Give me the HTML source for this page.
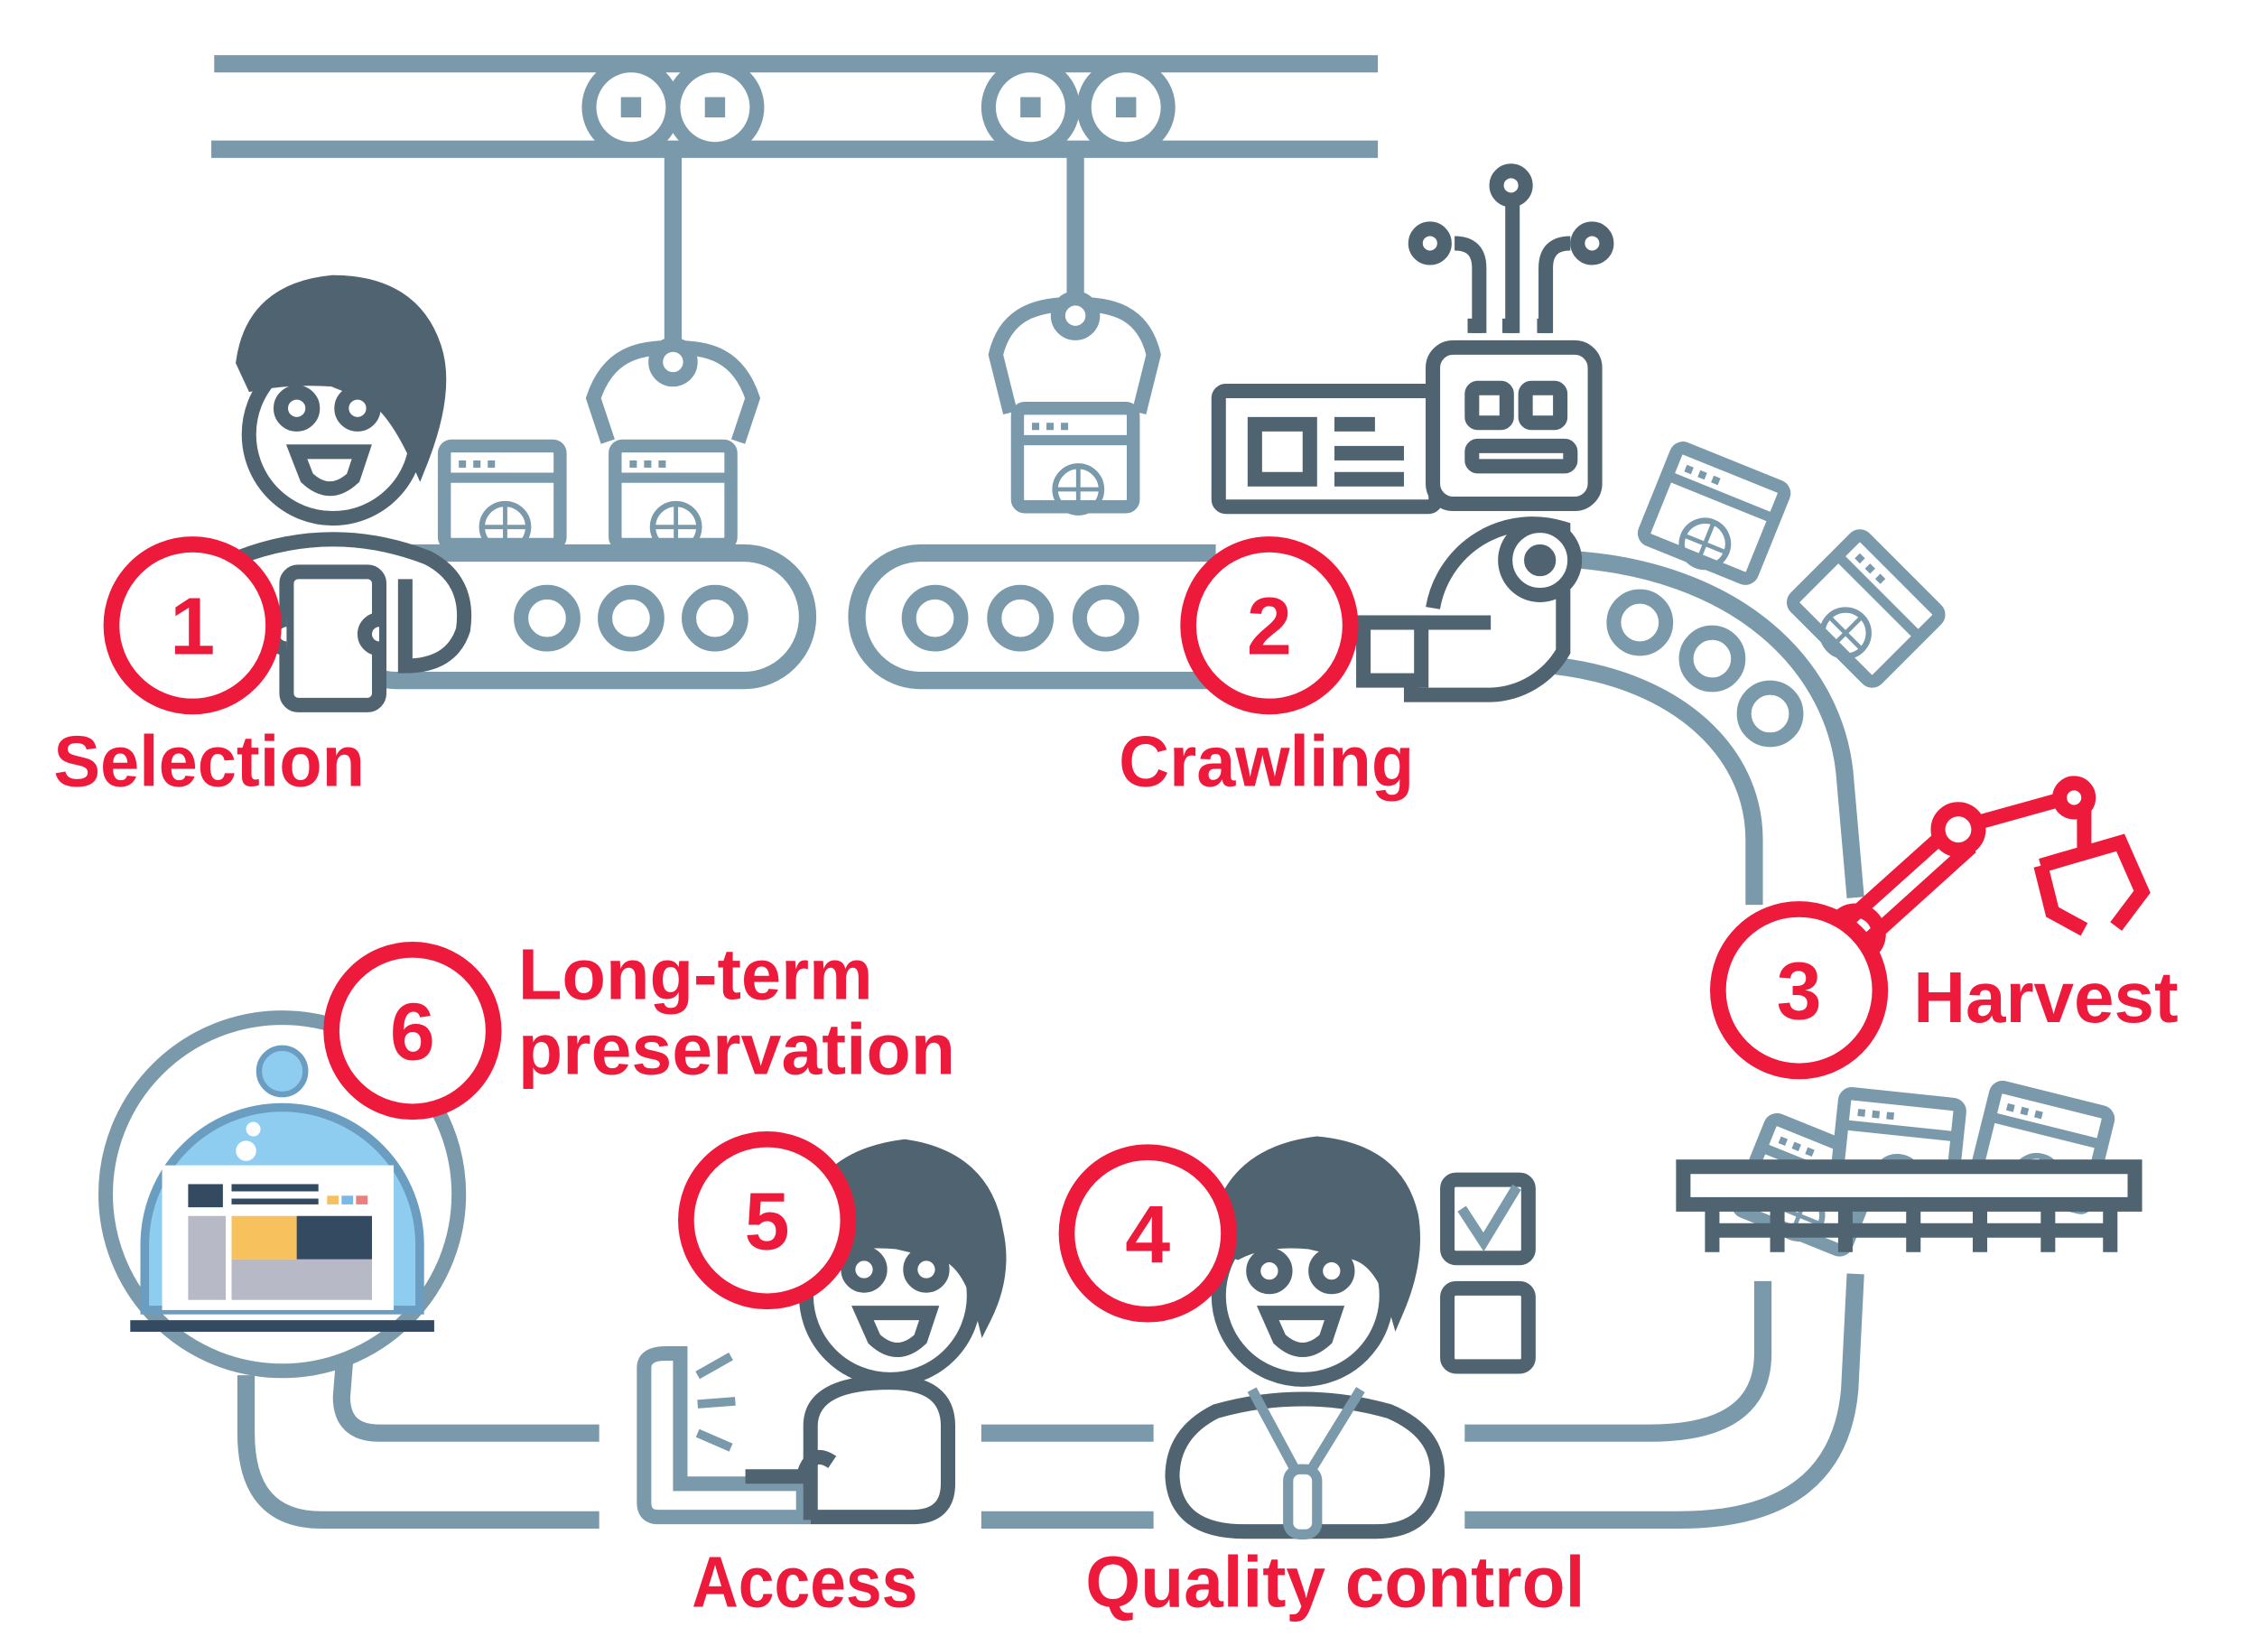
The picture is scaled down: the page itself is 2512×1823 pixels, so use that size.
<!DOCTYPE html>
<html><head><meta charset="utf-8"><style>html,body{margin:0;padding:0;background:#fff}svg{display:block}</style></head><body>
<svg xmlns="http://www.w3.org/2000/svg" width="2512" height="1823" viewBox="0 0 1567 1137">
<defs>
<g id="win"><rect x="0" y="0" width="80" height="68" rx="5" fill="#fff" stroke="#7a9aab" stroke-width="9"/><line x1="0" y1="22" x2="80" y2="22" stroke="#7a9aab" stroke-width="7"/><rect x="10" y="10" width="5" height="5" fill="#7a9aab"/><rect x="20" y="10" width="5" height="5" fill="#7a9aab"/><rect x="30" y="10" width="5" height="5" fill="#7a9aab"/><circle cx="42" cy="56" r="16" fill="none" stroke="#7a9aab" stroke-width="4"/><line x1="26" y1="56" x2="58" y2="56" stroke="#7a9aab" stroke-width="3"/><line x1="42" y1="40" x2="42" y2="68" stroke="#7a9aab" stroke-width="3"/></g>
</defs>
<g fill="none" stroke="#7a9aab" stroke-width="12" stroke-linecap="butt">
<line x1="148" y1="44" x2="952" y2="44"/><line x1="146" y1="103" x2="952" y2="103"/>
<line x1="465" y1="100" x2="465" y2="245"/><line x1="743" y1="100" x2="743" y2="212"/>
<rect x="230" y="382" width="328" height="88" rx="44"/>
<path d="M840 382 H636 a44 44 0 0 0 0 88 H840"/>
<path d="M1080 386 C1200 392 1270 460 1275 540 L1282 620"/>
<path d="M1075 460 C1160 470 1212 520 1212 580 V625"/>
<path d="M1218 885 V935 Q1218 990 1140 990 H1012"/>
<path d="M1282 880 L1278 960 Q1270 1050 1160 1050 H1012"/>
<line x1="678" y1="990" x2="797" y2="990"/><line x1="678" y1="1050" x2="797" y2="1050"/>
<path d="M414 990 H262 Q236 990 236 965 L238 940"/>
<path d="M414 1050 H222 Q170 1050 170 990 V950"/>
</g>
<g fill="#fff" stroke="#7a9aab" stroke-width="10">
<circle cx="436" cy="74" r="29"/><circle cx="494" cy="74" r="29"/><circle cx="712" cy="74" r="29"/><circle cx="778" cy="74" r="29"/>
<circle cx="378" cy="427" r="18"/><circle cx="436" cy="427" r="18"/><circle cx="494" cy="427" r="18"/>
<circle cx="646" cy="427" r="18"/><circle cx="705" cy="427" r="18"/><circle cx="764" cy="427" r="18"/>
<circle cx="1133" cy="430" r="18"/><circle cx="1183" cy="455" r="18"/><circle cx="1223" cy="493" r="18"/>
</g>
<g fill="#7a9aab"><rect x="429" y="67" width="14" height="14"/><rect x="487" y="67" width="14" height="14"/><rect x="705" y="67" width="14" height="14"/><rect x="771" y="67" width="14" height="14"/></g>
<g fill="none" stroke="#7a9aab" stroke-width="10">
<path d="M465 240 C440 240 420 245 410 275 L420 305 M465 240 C490 240 510 245 520 275 L510 305"/>
<circle cx="465" cy="250" r="12" fill="#fff"/>
<path d="M743 210 C718 210 695 215 688 245 L698 285 M743 210 C768 210 790 215 797 245 L787 285"/>
<circle cx="743" cy="218" r="12" fill="#fff"/>
</g>
<use href="#win" x="307" y="308"/><use href="#win" x="425" y="308"/><use href="#win" x="703" y="282"/>
<use href="#win" transform="translate(1160 308) rotate(22)"/>
<use href="#win" transform="translate(1285 368) rotate(45)"/>
<g fill="#fff" stroke="#4f6470" stroke-width="10">
<rect x="842" y="270" width="150" height="80" rx="5"/>
<rect x="990" y="240" width="112" height="108" rx="14"/>
<rect x="1017" y="268" width="24" height="24" rx="4"/><rect x="1054" y="268" width="24" height="24" rx="4"/>
<rect x="1017" y="308" width="68" height="14" rx="4"/>
<path d="M1045 230 V140 M1022 230 V185 Q1022 168 1005 168 M1068 230 V185 Q1068 168 1085 168"/>
<circle cx="1044" cy="128" r="10"/><circle cx="988" cy="168" r="10"/><circle cx="1100" cy="168" r="10"/>
<path d="M990 420 A70 70 0 0 1 1080 365 L1080 450 A60 60 0 0 1 1030 480 H975 V430 H1030"/>
<circle cx="1064" cy="387" r="24"/><circle cx="1064" cy="387" r="6" fill="#4f6470"/>
<rect x="942" y="430" width="40" height="40"/>
</g>
<g fill="#4f6470"><rect x="862" y="288" width="48" height="48"/><rect x="922" y="288" width="28" height="10"/><rect x="922" y="308" width="48" height="10"/><rect x="922" y="326" width="48" height="10"/><rect x="1014" y="220" width="10" height="10"/><rect x="1038" y="220" width="10" height="10"/><rect x="1062" y="220" width="10" height="10"/></g>
<rect x="872" y="298" width="28" height="28" fill="#fff"/>
<use href="#win" transform="translate(1225 772) rotate(22)"/>
<use href="#win" transform="translate(1275 755) rotate(6)"/>
<use href="#win" transform="translate(1380 750) rotate(14)"/>
<g fill="#fff" stroke="#4f6470" stroke-width="10">
<rect x="1163" y="806" width="312" height="26"/>
<path d="M1183 832 V865 M1228 832 V865 M1275 832 V865 M1322 832 V865 M1368 832 V865 M1415 832 V865 M1458 832 V865 M1183 850 H1458"/>
</g>
<g fill="none" stroke="#ee1a3c" stroke-width="10">
<path d="M1272 640 L1350 570 M1290 650 L1362 585"/>
<path d="M1360 570 L1432 550 M1440 555 L1440 590 M1410 598 L1465 582 L1480 616 L1462 640 M1410 598 L1418 630 L1440 642"/>
<circle cx="1353" cy="573" r="14" fill="#fff"/><circle cx="1433" cy="551" r="10" fill="#fff"/><circle cx="1282" cy="645" r="16"/>
</g>
<circle cx="195" cy="825" r="122" fill="#fff" stroke="#7a9aab" stroke-width="10"/>
<path d="M100 905 V860 A95 95 0 0 1 290 860 V905 Z" fill="#8ecdf0" stroke="#6b9dc0" stroke-width="6"/>
<circle cx="195" cy="740" r="16" fill="#8ecdf0" stroke="#6b9dc0" stroke-width="4"/>
<circle cx="175" cy="780" r="5" fill="#fff"/><circle cx="170" cy="795" r="7" fill="#fff"/>
<rect x="112" y="805" width="160" height="100" fill="#fff"/>
<rect x="130" y="818" width="24" height="16" fill="#334a60"/><rect x="160" y="818" width="60" height="5" fill="#334a60"/><rect x="160" y="828" width="60" height="4" fill="#334a60"/>
<rect x="226" y="826" width="8" height="6" fill="#f5c060"/><rect x="236" y="826" width="8" height="6" fill="#7ab8e8"/><rect x="246" y="826" width="8" height="6" fill="#e88080"/>
<rect x="130" y="840" width="26" height="58" fill="#b7b9c7"/><rect x="160" y="840" width="45" height="30" fill="#f7c15d"/><rect x="205" y="840" width="52" height="30" fill="#334a60"/><rect x="160" y="870" width="97" height="28" fill="#b7b9c7"/>
<rect x="90" y="912" width="210" height="8" fill="#334a60"/>
<g stroke="#4f6470" stroke-width="10" fill="#fff">
<path d="M165 385 Q230 360 295 385 Q325 400 320 435 Q312 460 280 460 V400"/>
<circle cx="230" cy="300" r="58"/>
<path d="M168 250 Q175 200 230 195 Q285 195 300 240 Q310 270 290 320 Q270 275 250 270 L230 262 Q200 260 175 265 Z" fill="#4f6470"/>
<circle cx="205" cy="282" r="11"/><circle cx="247" cy="282" r="11"/>
<path d="M205 312 H250 L244 330 Q228 345 212 330 Z"/>
<rect x="198" y="395" width="64" height="92" rx="8"/>
<path d="M198 428 a10 10 0 0 0 0 20 M262 428 a10 10 0 0 0 0 20"/>
</g>
<g stroke="#4f6470" stroke-width="10" fill="#fff">
<path d="M445 945 Q445 935 460 935 H470 V1025 H555 V1048 H455 Q445 1048 445 1038 Z" stroke="#7a9aab"/>
<path d="M560 1050 V985 Q560 955 615 955 Q655 955 655 985 V1025 Q655 1048 630 1048 H560"/>
<path d="M575 1010 Q560 1000 555 1020 H515"/>
<circle cx="615" cy="895" r="58"/>
<path d="M555 860 Q560 800 625 792 Q680 800 688 850 Q695 880 680 910 Q670 870 650 865 L620 858 Q590 855 570 865 Z" fill="#4f6470"/>
<circle cx="597" cy="877" r="11"/><circle cx="640" cy="877" r="11"/>
<path d="M596 907 H642 L636 925 Q620 940 604 925 Z"/>
</g>
<g stroke="#7a9aab" stroke-width="6"><line x1="482" y1="950" x2="505" y2="937"/><line x1="482" y1="970" x2="508" y2="968"/><line x1="482" y1="990" x2="505" y2="1000"/></g>
<g stroke="#4f6470" stroke-width="10" fill="#fff">
<path d="M840 975 Q900 958 960 975 Q995 990 993 1020 Q990 1058 950 1058 H860 Q812 1058 810 1020 Q810 990 840 975 Z"/>
<circle cx="900" cy="895" r="58"/>
<path d="M840 860 Q845 798 910 790 Q965 795 975 840 Q980 870 965 905 Q955 870 935 865 L905 858 Q875 855 855 865 Z" fill="#4f6470"/>
<circle cx="877" cy="878" r="11"/><circle cx="920" cy="878" r="11"/>
<path d="M876 907 H922 L916 925 Q900 940 884 925 Z"/>
<rect x="1000" y="815" width="56" height="54" rx="6"/><rect x="1000" y="890" width="56" height="54" rx="6"/>
<path d="M1010 835 L1025 858 L1048 820" stroke="#7a9aab" stroke-width="7"/>
</g>
<path d="M865 960 L900 1025 L940 960" fill="none" stroke="#7a9aab" stroke-width="7"/>
<rect x="890" y="1015" width="20" height="45" rx="8" fill="#fff" stroke="#7a9aab" stroke-width="7"/>
<g fill="#fff" stroke="#ee1a3c" stroke-width="11">
<circle cx="133" cy="432" r="56"/><circle cx="877" cy="432" r="56"/><circle cx="1243" cy="684" r="56"/>
<circle cx="285" cy="712" r="56"/><circle cx="530" cy="843" r="56"/><circle cx="793" cy="852" r="56"/>
</g>
<g fill="#ee1a3c" font-family="Liberation Sans, sans-serif" font-weight="bold" font-size="56" text-anchor="middle">
<text x="133" y="452">1</text><text x="877" y="452">2</text><text x="1243" y="704">3</text>
<text x="285" y="732">6</text><text x="530" y="863">5</text><text x="793" y="872">4</text>
</g>
<g fill="#ee1a3c" font-family="Liberation Sans, sans-serif" font-weight="bold" font-size="50">
<text x="37" y="543" textLength="215" lengthAdjust="spacingAndGlyphs">Selection</text>
<text x="773" y="543" textLength="204" lengthAdjust="spacingAndGlyphs">Crawling</text>
<text x="1322" y="706" textLength="183" lengthAdjust="spacingAndGlyphs">Harvest</text>
<text x="358" y="690" textLength="245" lengthAdjust="spacingAndGlyphs">Long-term</text>
<text x="358" y="742" textLength="302" lengthAdjust="spacingAndGlyphs">preservation</text>
<text x="478" y="1110" textLength="156" lengthAdjust="spacingAndGlyphs">Access</text>
<text x="750" y="1110" textLength="345" lengthAdjust="spacingAndGlyphs">Quality control</text>
</g>
</svg>
</body></html>
